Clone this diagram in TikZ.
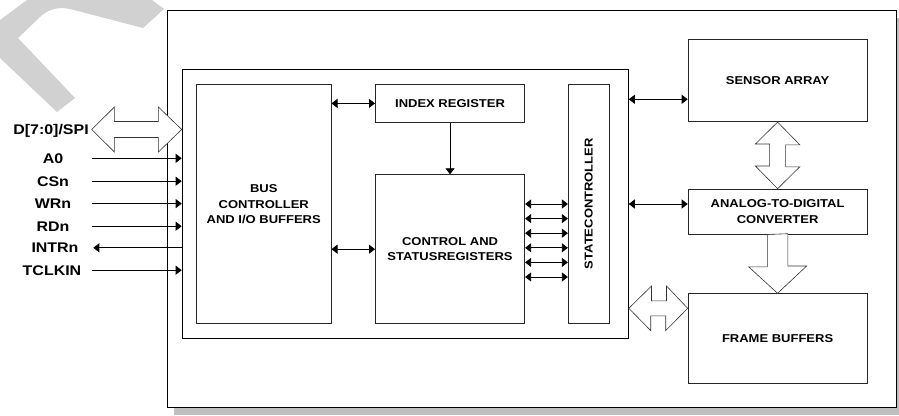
\documentclass[tikz,border=0pt]{standalone}
\usepackage{fontspec}
\setmainfont{Liberation Sans}[FakeStretch=1.14]
\usetikzlibrary{arrows.meta, positioning, calc}

\begin{document}
\begin{tikzpicture}[x=1pt, y=-1pt,
    block/.style={rectangle, draw=black!85, line width=0.8pt, fill=white, inner sep=0pt, anchor=north west, align=center, font=\fontsize{11.4}{15.7}\selectfont\bfseries},
    pin/.style={inner sep=0pt, text height=10pt, text depth=0pt, font=\fontsize{14}{16}\selectfont\bfseries},
    sig/.style={line width=0.8pt, -{Triangle[length=6pt,width=9pt]}},
    dbl/.style={line width=0.8pt, {Triangle[length=6pt,width=9pt]}-{Triangle[length=6pt,width=9pt]}},
    hollow/.style={draw=black!80, line width=0.6pt, fill=white, line join=miter}]

    \useasboundingbox (0,0) rectangle (899,415);

    % grey mark in the corner
    \fill[black!18] (0,20) -- (27,0) -- (152,0) -- (164,9) -- (143,28) -- (70,9)
        .. controls (56,6) and (46,11) .. (40,17) -- (18,38) -- (75,98) -- (57,112) -- (0,58) -- cycle;

    % chip outline with shadow
    \fill[black!25] (173.7,18) rectangle (903,415);
    \node [block, draw=black, minimum width=728.8pt, minimum height=397pt] (outer) at (166.7,10) {};
    \node [block, draw=black, minimum width=446.3pt, minimum height=269pt] (inner) at (181.7,69.3) {};

    % blocks
    \node [block, minimum width=134.7pt, minimum height=239pt] (bus) at (196,84.3) {BUS\\CONTROLLER\\AND I/O BUFFERS};
    \node [block, minimum width=149.3pt, minimum height=37.4pt] (index) at (375,84.3) {INDEX REGISTER};
    \node [block, minimum width=149.3pt, minimum height=149pt] (csr) at (375,174.3) {CONTROL AND\\STATUSREGISTERS};
    \node [block, anchor=center, rotate=90, minimum width=238.7pt, minimum height=41pt] (state) at (588.8,203.6) {STATECONTROLLER};
    \node [block, minimum width=179pt, minimum height=82pt] (sensor) at (687.7,39.3) {SENSOR ARRAY};
    \node [block, minimum width=179pt, minimum height=45pt] (adc) at (687.7,188.7) {ANALOG-TO-DIGITAL\\CONVERTER};
    \node [block, minimum width=179pt, minimum height=90pt] (frame) at (687.7,293.3) {FRAME BUFFERS};

    % pins
    \node [pin] (dbus) at (51,129.5) {D[7:0]/SPI};
    \node [pin] (a0) at (53,158.3) {A0};
    \node [pin] (csn) at (53,181.2) {CSn};
    \node [pin] (wrn) at (53,203.6) {WRn};
    \node [pin] (rdn) at (53,226.2) {RDn};
    \node [pin] (intr) at (55,247.8) {INTRn};
    \node [pin] (tclk) at (52,270.2) {TCLKIN};
    \coordinate (pinx) at (91.7,0);

    \foreach \s in {a0,csn,wrn,rdn,tclk}
        \draw [sig] (pinx |- \s) -- (inner.west |- \s);
    \draw [sig] (inner.west |- intr) -- ($(pinx |- intr)+(1.6,0)$);

    \draw [hollow] (pinx |- dbus) -- ++(22.7,-22.5) -- ++(0,14.5) -- ++(44,0) -- ++(0,-14.5)
        -- (inner.west |- dbus) -- ++(-23.3,22.5) -- ++(0,-14.5) -- ++(-44,0) -- ++(0,14.5) -- cycle;

    % inside the controller
    \draw [dbl] (bus.east |- index.west) -- (index.west);
    \draw [dbl] (bus.east |- csr.west) -- (csr.west);
    \draw [sig] (index.south) -- (csr.north);
    \foreach \y in {204,218.6,233.2,247.8,262.4,277}
        \draw [dbl] (csr.east |- 0,\y) -- (state.north |- 0,\y);

    % to the sensor side
    \draw [dbl] (inner.east |- 0,99.3) -- (sensor.west |- 0,99.3);
    \draw [dbl] (inner.east |- 0,204) -- (adc.west |- 0,204);

    \draw [hollow] (sensor.south) -- ++(22.2,22.7) -- ++(-14.2,0) -- ++(0,22) -- ++(14.2,0)
        -- (adc.north) -- ++(-22.2,-22.7) -- ++(14.2,0) -- ++(0,-22) -- ++(-14.2,0) -- cycle;
    \draw [hollow] ($(adc.south)+(-10.3,0)$) -- ++(0,32.3) -- ++(-18.7,0) -- (frame.north)
        -- ++(29,-27.3) -- ++(-18.7,0) -- ++(0,-32.3) -- cycle;
    \coordinate (fbtip) at ($(frame.north west)+(0,15)$);
    \draw [hollow] (inner.east |- fbtip) -- ++(22.7,-22.3) -- ++(0,14.8) -- ++(15,0) -- ++(0,-14.8)
        -- (fbtip) -- ++(-22,22.3) -- ++(0,-14.8) -- ++(-15,0) -- ++(0,14.8) -- cycle;
\end{tikzpicture}
\end{document}
